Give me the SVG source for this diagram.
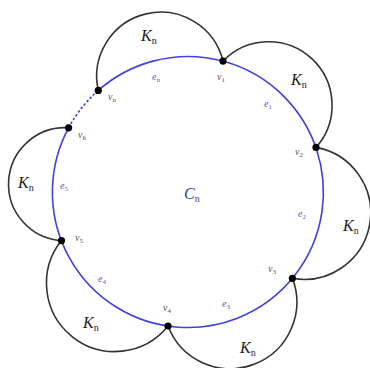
<svg xmlns="http://www.w3.org/2000/svg" width="370" height="368" viewBox="0 0 370 368">
<style>
.k{font-family:"Liberation Serif",serif;font-style:italic;font-size:16px;fill:#222}
.sub{font-style:normal;font-size:10px}
.e{font-family:"Liberation Serif",serif;font-style:italic;font-size:10px;fill:#5a5ad0}
.v{font-family:"Liberation Serif",serif;font-style:italic;font-size:10px;fill:#555}
.vs{font-style:normal;font-size:7px}
.arc{fill:none;stroke:#333;stroke-width:1.6}
.cyc{fill:none;stroke:#4040dd;stroke-width:1.6}
.dot{fill:#000}
</style>
<rect width="370" height="368" fill="#fff"/>
<g id="connectors">
<path class="cyc" d="M98.3,90.4 A135.5,135.5 0 1 1 68.6,127.8"/>
<path class="cyc" stroke-dasharray="2.5,2" d="M68.6,127.8 A135.5,135.5 0 0 1 98.3,90.4"/>
<path class="arc" d="M98.3,90.4 A64.05,64.05 0 0 1 223,61.1"/>
<path class="arc" d="M223,61.1 A63.45,63.45 0 0 1 316,147.4"/>
<path class="arc" d="M316,147.4 A66.5,66.5 0 0 1 292.4,278.3"/>
<path class="arc" d="M292.4,278.3 A66.6,66.6 0 0 1 168,326"/>
<path class="arc" d="M168,326 A68.25,68.25 0 0 1 61.5,240.6"/>
<path class="arc" d="M61.5,240.6 A56.5,56.5 0 0 1 68.6,127.8"/>
</g>
<g id="vn"><circle class="dot" cx="98.3" cy="90.4" r="3.6"/><text class="v" x="108" y="100">v<tspan class="vs" dy="2">n</tspan></text></g>
<g id="v1"><circle class="dot" cx="223" cy="61.1" r="3.6"/><text class="v" x="217" y="80">v<tspan class="vs" dy="2">1</tspan></text></g>
<g id="v2"><circle class="dot" cx="316" cy="147.4" r="3.6"/><text class="v" x="295" y="155">v<tspan class="vs" dy="2">2</tspan></text></g>
<g id="v3"><circle class="dot" cx="292.4" cy="278.3" r="3.6"/><text class="v" x="268" y="272">v<tspan class="vs" dy="2">3</tspan></text></g>
<g id="v4"><circle class="dot" cx="168" cy="326" r="3.6"/><text class="v" x="163" y="311">v<tspan class="vs" dy="2">4</tspan></text></g>
<g id="v5"><circle class="dot" cx="61.5" cy="240.6" r="3.6"/><text class="v" x="75" y="241">v<tspan class="vs" dy="2">5</tspan></text></g>
<g id="v6"><circle class="dot" cx="68.6" cy="127.8" r="3.6"/><text class="v" x="78" y="138">v<tspan class="vs" dy="2">6</tspan></text></g>
<g id="edge-labels">
<text class="e" x="152" y="80">e<tspan class="vs" dy="2">n</tspan></text>
<text class="e" x="264" y="107">e<tspan class="vs" dy="2">1</tspan></text>
<text class="e" x="298" y="217">e<tspan class="vs" dy="2">2</tspan></text>
<text class="e" x="222" y="307">e<tspan class="vs" dy="2">3</tspan></text>
<text class="e" x="98" y="282">e<tspan class="vs" dy="2">4</tspan></text>
<text class="e" x="60" y="189">e<tspan class="vs" dy="2">5</tspan></text>
</g>
<g id="Kn-labels">
<text class="k" x="141" y="41">K<tspan class="sub" dy="3">n</tspan></text>
<text class="k" x="291" y="85">K<tspan class="sub" dy="3">n</tspan></text>
<text class="k" x="343" y="231">K<tspan class="sub" dy="3">n</tspan></text>
<text class="k" x="240" y="353">K<tspan class="sub" dy="3">n</tspan></text>
<text class="k" x="83" y="328">K<tspan class="sub" dy="3">n</tspan></text>
<text class="k" x="18" y="188">K<tspan class="sub" dy="3">n</tspan></text>
</g>
<g id="Cn"><text class="k" x="184" y="199" style="fill:#3a3aa0">C<tspan class="sub" dy="3">n</tspan></text></g>
</svg>
